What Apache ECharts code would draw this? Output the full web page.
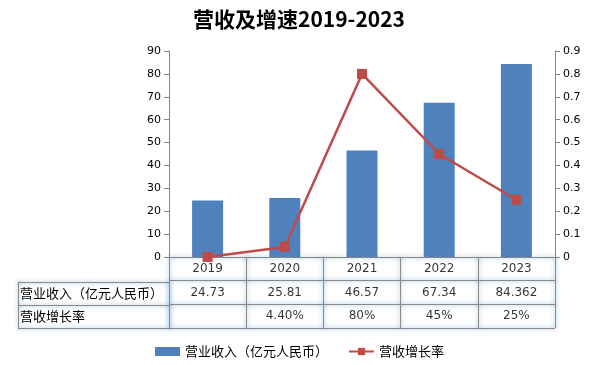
<!DOCTYPE html>
<html><head><meta charset="utf-8">
<script src="https://cdn.jsdelivr.net/npm/echarts@6/dist/echarts.min.js"></script>
<style>html,body{margin:0;padding:0;background:#fff}#c{width:598px;height:365px}</style>
</head><body><div id="c"></div>
<script>
var title = '营收及增速2019-2023';
var years = ['2019','2020','2021','2022','2023'];
var revenue = [24.73, 25.81, 46.57, 67.34, 84.362];
var growth = [0, 0.044, 0.8, 0.45, 0.25];
var revenueText = ['24.73','25.81','46.57','67.34','84.362'];
var growthText = ['', '4.40%', '80%', '45%', '25%'];
var rowNames = ['营业收入（亿元人民币）', '营收增长率'];
var seriesNames = ['营业收入（亿元人民币）', '营收增长率'];
var leftTicks = {min:0, max:90, interval:10};
var rightTicks = {min:0, max:0.9, interval:0.1};

var FONT = '"DejaVu Sans", "Noto Sans CJK SC", sans-serif';
var CJK = '"Noto Sans CJK SC", sans-serif';
var axisGrey = '#868686';
var border = {color:'#8a8a8a', width:1, shadowBlur:4, shadowColor:'rgba(79,129,189,0.85)'};

var cells = [];
years.forEach(function(y,i){
  cells.push([y, 'h', y]);
  cells.push([y, 'r', revenueText[i]]);
  if (growthText[i]) cells.push([y, 'g', growthText[i]]);
});

var chart = echarts.init(document.getElementById('c'));
chart.setOption({
  animation:false,
  title:{text:title, left:'center', top:4, textStyle:{fontSize:21, fontWeight:'bold', color:'#000', fontFamily:CJK}},
  legend:{left:150, top:340, itemWidth:25, itemHeight:9, itemGap:20,
    textStyle:{fontSize:13, color:'#000', fontFamily:CJK},
    data:[{name:seriesNames[0], icon:'rect'}, {name:seriesNames[1]}]},
  grid:[
    {left:169, right:43, top:51, height:206},
    {left:169, right:43, top:257, height:71},
    {left:18, width:151, top:282, height:46}
  ],
  xAxis:[
    {type:'category', data:years, gridIndex:0, axisLine:{lineStyle:{color:axisGrey}}, axisTick:{show:false}, axisLabel:{show:false}},
    {type:'category', data:years, gridIndex:1, axisLine:{show:false}, axisTick:{show:false}, axisLabel:{show:false}, splitLine:{show:true, lineStyle:border}},
    {type:'category', data:['x'], gridIndex:2, axisLine:{show:false}, axisTick:{show:false}, axisLabel:{show:false}, splitLine:{show:true, lineStyle:border}}
  ],
  yAxis:[
    {type:'value', gridIndex:0, min:leftTicks.min, max:leftTicks.max, interval:leftTicks.interval,
      axisLine:{show:true, lineStyle:{color:axisGrey}}, axisTick:{show:true, length:5, lineStyle:{color:axisGrey}},
      splitLine:{show:false}, axisLabel:{color:'#000', fontSize:11, fontFamily:FONT, margin:8}},
    {type:'value', gridIndex:0, position:'right', min:rightTicks.min, max:rightTicks.max, interval:rightTicks.interval,
      axisLine:{show:true, lineStyle:{color:axisGrey}}, axisTick:{show:true, length:5, lineStyle:{color:axisGrey}},
      splitLine:{show:false}, axisLabel:{color:'#000', fontSize:11, fontFamily:FONT, margin:8,
        formatter:function(v){return +v.toFixed(1)+'';}}},
    {type:'category', gridIndex:1, data:['h','r','g'], inverse:true, axisLine:{show:false}, axisTick:{show:false}, axisLabel:{show:false}, splitLine:{show:true, lineStyle:border}},
    {type:'category', gridIndex:2, data:rowNames, inverse:true, axisLine:{show:false}, axisTick:{show:false},
      axisLabel:{inside:true, margin:2, color:'#000', fontSize:13, fontFamily:CJK, verticalAlign:'middle', padding:[0,0,4,0]},
      splitLine:{show:true, lineStyle:border}}
  ],
  series:[
    {name:seriesNames[0], type:'bar', xAxisIndex:0, yAxisIndex:0, data:revenue, barWidth:31, itemStyle:{color:'#4F81BD'}},
    {name:seriesNames[1], type:'line', xAxisIndex:0, yAxisIndex:1, data:growth, symbol:'rect', symbolSize:10,
      lineStyle:{color:'#BE4B48', width:2.5}, itemStyle:{color:'#BE4B48'}},
    {type:'scatter', xAxisIndex:1, yAxisIndex:2, data:cells, symbolSize:1, itemStyle:{color:'rgba(0,0,0,0)'},
      silent:true,
      label:{show:true, position:'inside', color:'#000', fontSize:12, fontFamily:FONT,
        formatter:function(p){return p.value[2];}}}
  ]
});
</script></body></html>
